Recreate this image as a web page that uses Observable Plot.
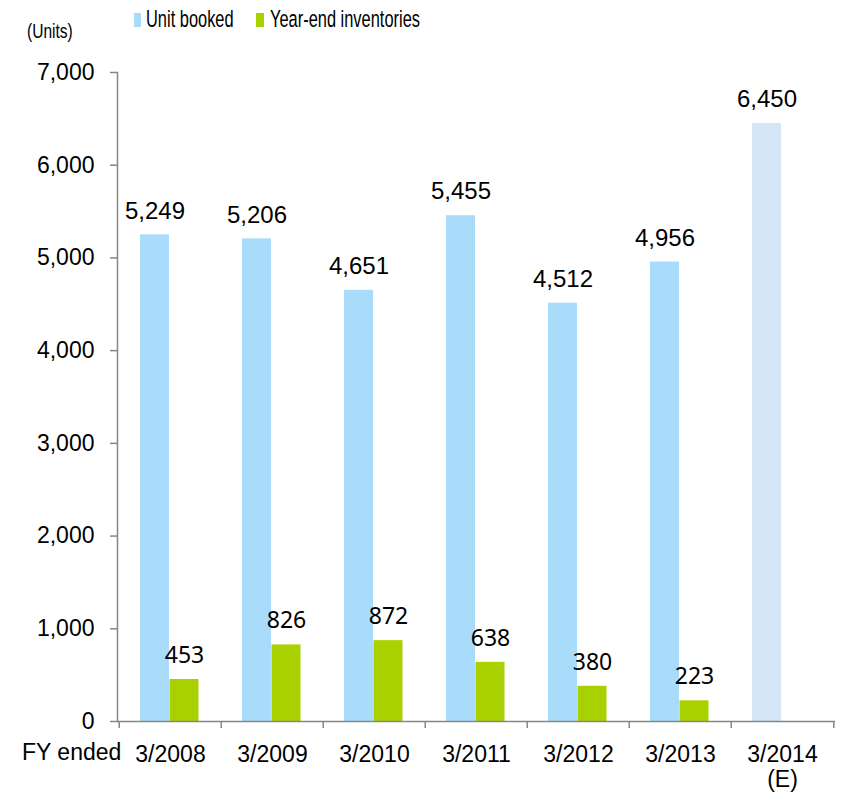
<!DOCTYPE html>
<html><head><meta charset="utf-8">
<script src="https://cdn.jsdelivr.net/npm/d3@7"></script>
<script src="https://cdn.jsdelivr.net/npm/@observablehq/plot@0.6"></script>
<style>
body{margin:0;background:#fff;font-family:"Liberation Sans",Arial,sans-serif;}
#wrap{position:relative;width:843px;height:793px;overflow:hidden;}
.abs{position:absolute;white-space:nowrap;color:#000;}
.sw{position:absolute;}
.cond{display:inline-block;transform-origin:left center;}
</style></head><body>
<div id="wrap">
  <div id="chart" style="position:absolute;left:0;top:0;"></div>
  <div class="abs" style="left:27px;top:19.5px;font-size:21px;line-height:21px;"><span class="cond" style="transform:scaleX(0.74)">(Units)</span></div>
  <div class="sw" id="sw0" style="left:134px;top:13px;width:7px;height:14px;"></div>
  <div class="abs" id="lg0" style="left:146px;top:7px;font-size:24.5px;line-height:24px;"><span class="cond" style="transform:scaleX(0.67)"></span></div>
  <div class="sw" id="sw1" style="left:256px;top:13px;width:8px;height:14px;"></div>
  <div class="abs" id="lg1" style="left:270px;top:7px;font-size:24.5px;line-height:24px;"><span class="cond" style="transform:scaleX(0.67)"></span></div>
  <div class="abs" style="left:22px;top:740.5px;font-size:23px;line-height:23px;">FY ended</div>
</div>
<script>
const categories = ["3/2008","3/2009","3/2010","3/2011","3/2012","3/2013","3/2014"];
const categoryLabels = ["3/2008","3/2009","3/2010","3/2011","3/2012","3/2013","3/2014\n(E)"];
const unitsBooked = [5249,5206,4651,5455,4512,4956,6450];
const inventories = [453,826,872,638,380,223,null];
const isEstimate = [false,false,false,false,false,false,true];
const yTicks = [0,1000,2000,3000,4000,5000,6000,7000];
const seriesNames = ["Unit booked","Year-end inventories"];
const seriesColors = ["#a9dcfb","#a9d000"];
const estimateColor = "#d5e7f7";
const axisColor = "#868686";

document.getElementById("sw0").style.background = seriesColors[0];
document.getElementById("sw1").style.background = seriesColors[1];
document.querySelector("#lg0 span").textContent = seriesNames[0];
document.querySelector("#lg1 span").textContent = seriesNames[1];

const booked = categories.map((c,i)=>({category:c, value:unitsBooked[i], fill:isEstimate[i]?estimateColor:seriesColors[0]}));
const inv = categories.map((c,i)=>({category:c, value:inventories[i]})).filter(d=>d.value!=null);
const fmt = d3.format(",");
const step = (843-117-8)/categories.length;

const chart = Plot.plot({
  width:843, height:793,
  marginTop:72, marginBottom:72, marginLeft:117, marginRight:8,
  x:{domain:categories, padding:0},
  y:{domain:[0,7000]},
  color:{type:"identity"},
  style:{fontFamily:'"Liberation Sans", Arial, sans-serif', background:"white", color:"black"},
  marks:[
    Plot.barY(booked,{x:"category", y:"value", fill:"fill", insetLeft:21, insetRight:52}),
    Plot.barY(inv,{x:"category", y:"value", fill:seriesColors[1], insetLeft:50.5, insetRight:22.5}),
    Plot.text(booked,{x:"category", y:"value", text:d=>fmt(d.value), dx:-15.5, dy:-24, fontSize:24, fill:"black"}),
    Plot.text(inv,{x:"category", y:"value", text:d=>String(d.value), dx:14, dy:-24, fontSize:23, fontFamily:"Noto Sans", fill:"black"}),
    Plot.frame({anchor:"left", stroke:axisColor, strokeWidth:1.5}),
    Plot.ruleY([0],{stroke:axisColor, strokeWidth:1.5}),
    Plot.axisY(yTicks,{tickSize:7, tickPadding:16, tickFormat:d=>fmt(d), fontSize:23, stroke:axisColor, strokeWidth:1.5, fill:"black", label:null}),
    Plot.axisX(categories,{tickSize:7, tickFormat:()=>"", dx:-step/2, stroke:axisColor, strokeWidth:1.5, label:null}),
    Plot.axisX([categories[categories.length-1]],{tickSize:7, tickFormat:()=>"", dx:step/2, stroke:axisColor, strokeWidth:1.5, label:null}),
    Plot.axisX(categories,{tickSize:0, tickPadding:23, tickFormat:d=>categoryLabels[categories.indexOf(d)], fontSize:23, lineHeight:1.07, fill:"black", label:null})
  ]
});
document.getElementById("chart").appendChild(chart);
</script>
</body></html>
